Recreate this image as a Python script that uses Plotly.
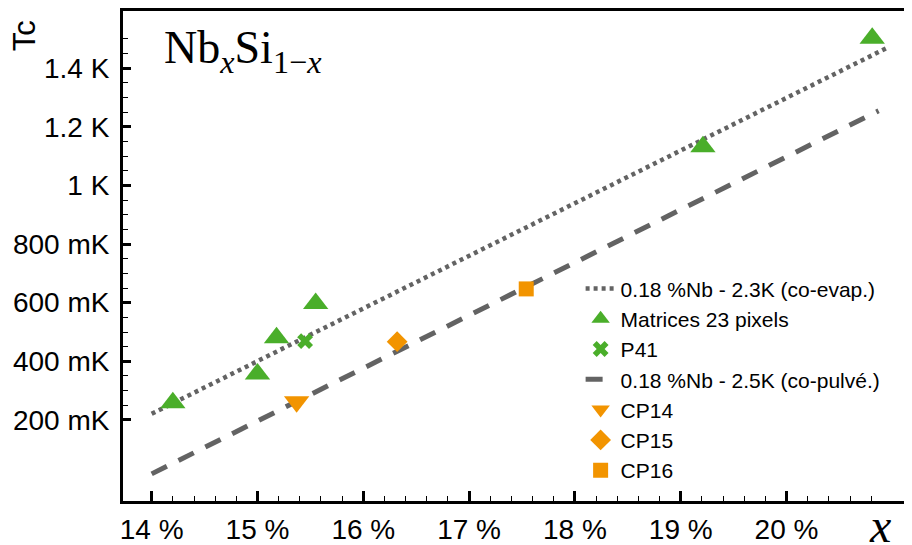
import plotly.graph_objects as go

# Tc vs Nb fraction x (in %), Tc in K
fit_evap_x = [14.0, 20.96]
fit_evap_tc = [0.221, 1.471]
fit_pulv_x = [14.0, 20.87]
fit_pulv_tc = [0.016, 1.2545]

matrices_x = [14.20, 15.00, 15.18, 15.55, 19.21, 20.81]
matrices_tc = [0.259, 0.357, 0.480, 0.597, 1.132, 1.502]

p41_x = [15.45]
p41_tc = [0.469]
cp14_x = [15.37]
cp14_tc = [0.262]
cp15_x = [16.32]
cp15_tc = [0.467]
cp16_x = [17.54]
cp16_tc = [0.647]

x_ticks = [14, 15, 16, 17, 18, 19, 20]
x_ticktext = ["14 %", "15 %", "16 %", "17 %", "18 %", "19 %", "20 %"]
y_ticks = [0.2, 0.4, 0.6, 0.8, 1.0, 1.2, 1.4]
y_ticktext = ["200 mK", "400 mK", "600 mK", "800 mK", "1 K", "1.2 K", "1.4 K"]

x_minor = [round(14 + 0.2 * i, 1) for i in range(1, 35)]
y_minor = [round(0.25 + 0.05 * i, 2) for i in range(0, 26)]

GREEN = "#4aae2a"
ORANGE = "#f29400"
GREY = "#636363"
SANS = "Liberation Sans, Arial, sans-serif"
SERIF = "Liberation Serif, Times New Roman, serif"

fig = go.Figure()

fig.add_trace(go.Scatter(
    x=fit_evap_x, y=fit_evap_tc, mode="lines",
    name="0.18 %Nb - 2.3K (co-evap.)", legendrank=1,
    line={"color": GREY, "width": 4.5, "dash": "4px,4px"},
))
fig.add_trace(go.Scatter(
    x=fit_pulv_x, y=fit_pulv_tc, mode="lines",
    name="0.18 %Nb - 2.5K (co-pulvé.)", legendrank=4,
    line={"color": GREY, "width": 5, "dash": "17px,13px"},
))
fig.add_trace(go.Scatter(
    x=matrices_x, y=matrices_tc, mode="markers",
    name="Matrices 23 pixels", legendrank=2,
    marker={"symbol": "triangle-up", "size": 22, "color": GREEN},
))
fig.add_trace(go.Scatter(
    x=p41_x, y=p41_tc, mode="markers", name="P41", legendrank=3,
    marker={"symbol": "x", "size": 14, "color": GREEN},
))
fig.add_trace(go.Scatter(
    x=cp14_x, y=cp14_tc, mode="markers", name="CP14", legendrank=5,
    marker={"symbol": "triangle-down", "size": 22, "color": ORANGE},
))
fig.add_trace(go.Scatter(
    x=cp15_x, y=cp15_tc, mode="markers", name="CP15", legendrank=6,
    marker={"symbol": "diamond", "size": 16, "color": ORANGE},
))
fig.add_trace(go.Scatter(
    x=cp16_x, y=cp16_tc, mode="markers", name="CP16", legendrank=7,
    marker={"symbol": "square", "size": 15, "color": ORANGE},
))

axis_common = {
    "showgrid": False,
    "zeroline": False,
    "showline": True,
    "linecolor": "black",
    "linewidth": 3,
    "ticks": "inside",
    "tickcolor": "black",
    "tickwidth": 2.5,
    "tickfont": {"family": SANS, "size": 28, "color": "black"},
    "tickmode": "array",
}

# the page body adds an 8px margin, so the figure is sized to fit the window
fig.update_layout(
    width=904,
    height=537,
    paper_bgcolor="white",
    plot_bgcolor="white",
    margin={"l": 115, "r": 0, "t": 2, "b": 41},
    xaxis={
        **axis_common,
        "range": [13.729, 21.186],
        "tickvals": x_ticks,
        "ticktext": x_ticktext,
        "ticklen": 10,
        "ticklabelstandoff": 1,
        "mirror": True,
        "minor": {"tickmode": "array", "tickvals": x_minor, "ticks": "inside",
                  "ticklen": 5, "tickwidth": 1, "tickcolor": "black"},
    },
    yaxis={
        **axis_common,
        "range": [-0.0765, 1.595],
        "tickvals": y_ticks,
        "ticktext": y_ticktext,
        "ticklen": 8,
        "ticklabelstandoff": 5,
        "minor": {"tickmode": "array", "tickvals": y_minor, "ticks": "inside",
                  "ticklen": 5, "tickwidth": 1, "tickcolor": "black"},
    },
    legend={
        "x": 0.580, "y": 0.475, "xanchor": "left", "yanchor": "top",
        "bgcolor": "rgba(0,0,0,0)",
        "font": {"family": SANS, "size": 21, "color": "black"},
    },
    annotations=[
        {"text": "Nb<sub><i>x</i></sub>Si<sub>1−<i>x</i></sub>",
         "xref": "paper", "yref": "paper", "x": 0.049, "y": 0.919,
         "xanchor": "left", "yanchor": "middle", "showarrow": False,
         "font": {"family": SERIF, "size": 46, "color": "black"}},
        {"text": "Tc", "textangle": -90,
         "xref": "paper", "yref": "paper", "x": -0.124, "y": 0.949,
         "xanchor": "center", "yanchor": "middle", "showarrow": False,
         "font": {"family": SANS, "size": 31, "color": "black"}},
        {"text": "<i>x</i>",
         "xref": "paper", "yref": "paper", "x": 0.959, "y": -0.0506,
         "xanchor": "center", "yanchor": "middle", "showarrow": False,
         "font": {"family": SERIF, "size": 48, "color": "black"}},
    ],
)

fig.write_html("out.html")
